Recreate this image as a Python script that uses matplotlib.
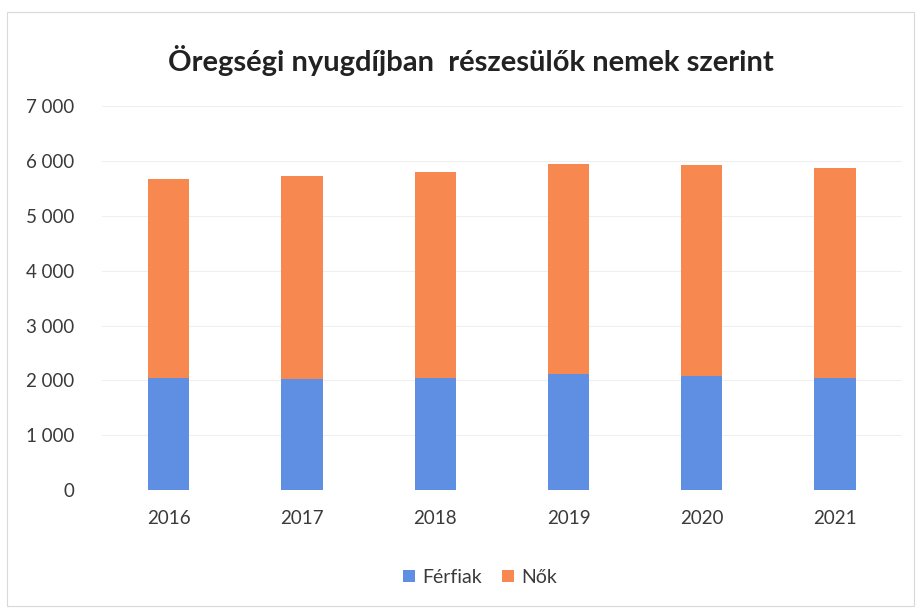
import numpy as np
import matplotlib.pyplot as plt
from matplotlib.patches import Rectangle

years = ["2016", "2017", "2018", "2019", "2020", "2021"]
ferfiak = [2040, 2025, 2040, 2110, 2080, 2050]
nok = [3630, 3705, 3760, 3835, 3850, 3820]

plt.rcParams['font.family'] = ['Lato', 'DejaVu Sans']

fig = plt.figure(figsize=(9.2, 6.09), dpi=100)
ax = fig.add_axes([0.111, 0.195, 0.869, 0.631])

x = np.arange(len(years))
width = 0.31
blue = "#5f8fe3"
orange = "#f7884f"

ax.bar(x, ferfiak, width, color=blue, label="Férfiak", zorder=2)
ax.bar(x, nok, width, bottom=ferfiak, color=orange, label="Nők", zorder=2)

ax.set_xlim(-0.5, len(years) - 0.5)
ax.set_ylim(0, 7000)
ax.set_yticks(range(0, 7001, 1000))
ax.set_yticklabels([f"{v:,}".replace(",", " ") for v in range(0, 7001, 1000)])
ax.set_xticks(x)
ax.set_xticklabels(years)
ax.tick_params(axis='both', length=0, labelsize=13.5, colors="#3a3a3a")
ax.tick_params(axis='y', pad=20)
ax.tick_params(axis='x', pad=14)

ax.yaxis.grid(True, color="#efefef", linewidth=0.8)
ax.set_axisbelow(True)
for s in ax.spines.values():
    s.set_visible(False)

fig.text(0.512, 0.9, "Öregségi nyugdíjban  részesülők nemek szerint",
         ha='center', va='center', fontsize=21, fontweight='bold', color="#222222")

fig.legend(loc='center', bbox_to_anchor=(0.522, 0.052), ncol=2, frameon=False,
           fontsize=14, handlelength=0.6, handleheight=0.6, handletextpad=0.4,
           columnspacing=1.0, labelcolor="#3a3a3a")

# thin outer chart border
fig.patches.append(Rectangle((0.008, 0.005), 0.985, 0.975, transform=fig.transFigure,
                             fill=False, edgecolor="#d9d9d9", linewidth=0.8))

fig.savefig("out.png", dpi=100)
